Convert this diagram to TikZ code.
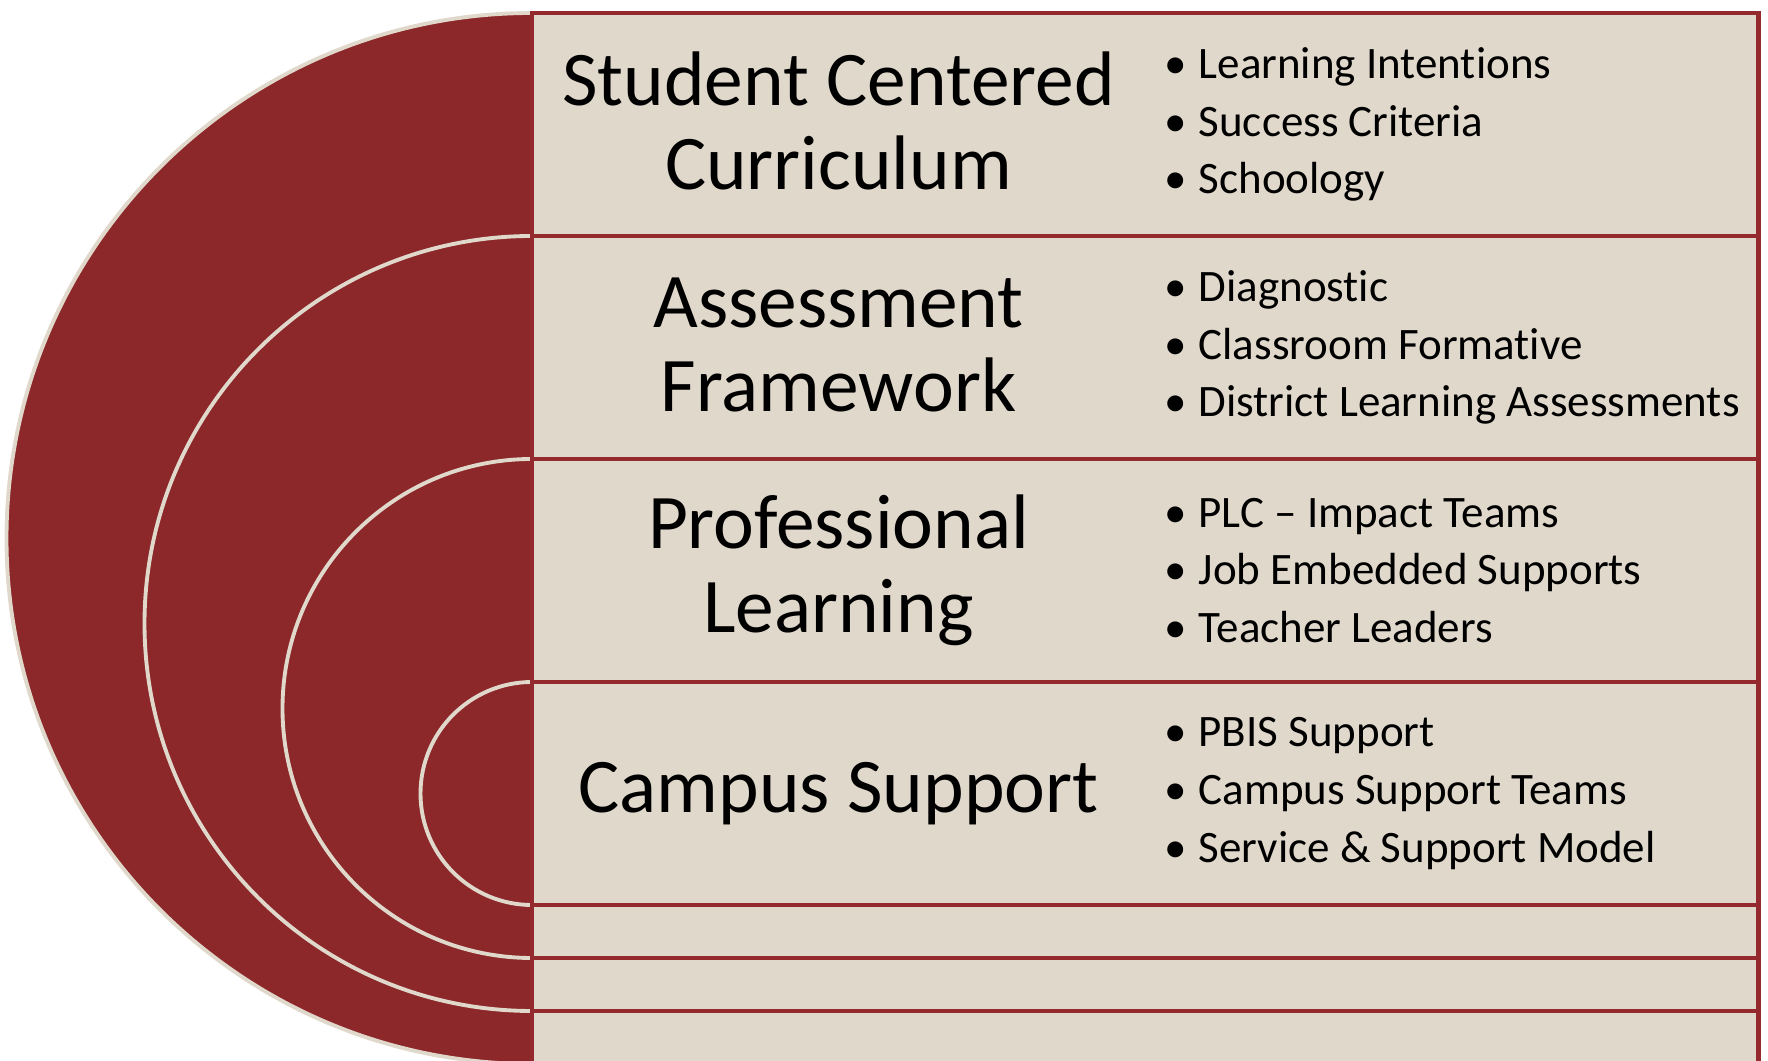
\documentclass[tikz,border=0pt]{standalone}
\usepackage{fontspec}
\setmainfont{Carlito}[Ligatures=NoCommon]
\usetikzlibrary{positioning,calc}
\definecolor{arcred}{RGB}{140,39,42}
\definecolor{edgered}{RGB}{148,42,46}
\definecolor{sand}{RGB}{224,216,203}
\newcommand{\bulletitem}[1]{\makebox[0.46cm][c]{\textbullet}#1}
\tikzset{
  rowbox/.style={draw=edgered,fill=sand,line width=1.4pt,minimum width=12.26cm,
    inner sep=0pt,outer sep=0pt},
  bigrow/.style={rowbox,minimum height=2.23cm},
  thinrow/.style={rowbox,minimum height=0.53cm},
}
\begin{document}
\begin{tikzpicture}
  \useasboundingbox (0,0) rectangle (17.68,10.60);
  \clip (0,0) rectangle (17.68,10.60);
  \coordinate(spine) at (5.32,0);
  \foreach \k in {0,...,3}{
    \draw[fill=arcred,draw=sand,line width=1.1pt]
    ($(spine)+(0,10.47-2.23*\k)$) arc[start angle=90,end angle=270,radius={(10.51-2.76*\k)/2}];
  }
  \node[bigrow,anchor=north west] (curriculum) at ($(spine)+(0,10.47)$) {};
  \node[bigrow,below=0pt of curriculum] (assessment) {};
  \node[bigrow,below=0pt of assessment] (learning) {};
  \node[bigrow,below=0pt of learning] (campus) {};
  \node[thinrow,below=0pt of campus] (band1) {};
  \node[thinrow,below=0pt of band1] (band2) {};
  \node[thinrow,below=0pt of band2] (band3) {};
  \begin{scope}[
    every node/.style={
      align=center,
      anchor=center,
      inner sep=0pt,
      font=\fontsize{22}{23.9}\selectfont,
    },
    ]
    \node (curriculum-title) at ($(curriculum.west)!0.25!(curriculum.east)+(0,0.04)$) {Student Centered\\Curriculum};
    \node (assessment-title) at ($(assessment.west)!0.25!(assessment.east)+(0,0.03)$) {Assessment\\Framework};
    \node (learning-title)   at ($(learning.west)!0.25!(learning.east)$)     {Professional\\Learning};
    \node (campus-title)     at ($(campus.west)!0.25!(campus.east)$)         {Campus Support};
  \end{scope}
  \begin{scope}[
    every node/.style={
      align=left,
      inner sep=0pt,
      font=\fontsize{12.8}{16.4}\selectfont,
    },
    ]
    \node[right=6.2cm of curriculum.west] (curriculum-list)
    {\bulletitem{Learning Intentions}\\\bulletitem{Success Criteria}\\\bulletitem{Schoology}};
    \node[right=6.2cm of assessment.west] (assessment-list)
    {\bulletitem{Diagnostic}\\\bulletitem{Classroom Formative}\\\bulletitem{District Learning Assessments}};
    \node[right=6.2cm of learning.west] (learning-list)
    {\bulletitem{PLC – Impact Teams}\\\bulletitem{Job Embedded Supports}\\\bulletitem{Teacher Leaders}};
    \node[right=6.2cm of campus.west] (campus-list)
    {\bulletitem{PBIS Support}\\\bulletitem{Campus Support Teams}\\\bulletitem{Service \& Support Model}};
  \end{scope}
\end{tikzpicture}
\end{document}
